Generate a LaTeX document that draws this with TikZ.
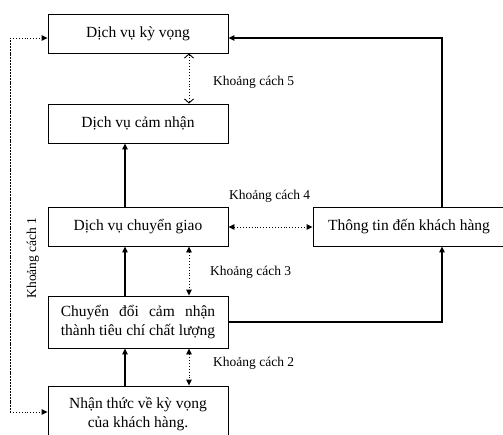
\documentclass[tikz,border=0pt]{standalone}
\usepackage{fontspec}
\usepackage{calc}
\setmainfont{Liberation Serif}
\usetikzlibrary{arrows.meta}
\tikzset{
  box/.style={draw, line width=0.9pt, minimum width=180pt, inner sep=0pt, align=center, font=\fontsize{15.5}{18.5}\selectfont},
  lbl/.style={anchor=west, inner sep=0pt, font=\fontsize{13.5}{16}\selectfont},
  solidarrow/.style={line width=1.1pt, -{Triangle[length=6pt,width=5.5pt]}},
  dotarrow/.style={dotted, line width=0.9pt, {Triangle[length=6pt,width=5.5pt]}-{Triangle[length=6pt,width=5.5pt]}},
  dotarrowone/.style={dotted, line width=0.9pt, -{Triangle[length=6pt,width=5.5pt]}},
  openarrow/.style={dotted, line width=0.9pt, {Straight Barb[length=4pt,width=9pt]}-{Straight Barb[length=4pt,width=9pt]}}
}
\begin{document}
\begin{tikzpicture}[x=1pt,y=-1pt]
\useasboundingbox (0,0) rectangle (503,434);
\clip (0,0) rectangle (503,434);
\node[box, minimum height=39pt] (b1) at (138,33.5) {Dịch vụ kỳ vọng};
\node[box, minimum height=39pt] (b2) at (138,123.5) {Dịch vụ cảm nhận};
\node[box, minimum height=39pt] (b3) at (138,226.5) {Dịch vụ chuyển giao};
\node[box, minimum height=52pt] (b4) at (138,322) {\makebox[\widthof{thành tiêu chí chất lượng}][s]{Chuyển đổi cảm nhận}\\thành tiêu chí chất lượng};
\node[box, minimum height=56pt] (b5) at (138,414) {Nhận thức về kỳ vọng\\của khách hàng.};
\node[box, minimum height=39pt, minimum width=192pt] (b6) at (409,226.5) {Thông tin đến khách hàng};

\coordinate (c1) at (442,38);
\coordinate (c2) at (442,322);
\coordinate (l1) at (10,38);
\coordinate (l2) at (10,412);
\coordinate (s) at (125,0);
\coordinate (d) at (189,0);

\draw[solidarrow] (b6.north -| c1) -- (c1) -- (b1.east |- c1);
\draw[solidarrow] (b4.east |- c2) -- (c2) -- (b6.south -| c2);
\draw[dotarrowone] (l2) -- (l1) -- (b1.west |- l1);
\draw[dotarrowone] (l1) -- (l2) -- (b5.west |- l2);

\draw[solidarrow] (b3.north -| s) -- (b2.south -| s);
\draw[solidarrow] (b4.north -| s) -- (b3.south -| s);
\draw[solidarrow] (b5.north -| s) -- (b4.south -| s);

\draw[openarrow] (b1.south -| d) -- (b2.north -| d);
\draw[dotarrow] (b3.south -| d) -- (b4.north -| d);
\draw[dotarrow] (b4.south -| d) -- (b5.north -| d);
\draw[dotarrow] (b3.east |- 0,227) -- (b6.west |- 0,227);

\node[lbl] (k5) at (213,82) {Khoảng cách 5};
\node[lbl] (k4) at (229,196) {Khoảng cách 4};
\node[lbl] (k3) at (210,272) {Khoảng cách 3};
\node[lbl] (k2) at (213,363) {Khoảng cách 2};
\node[lbl, anchor=center, rotate=90] (k1) at (33,258) {Khoảng cách 1};
\end{tikzpicture}
\end{document}
